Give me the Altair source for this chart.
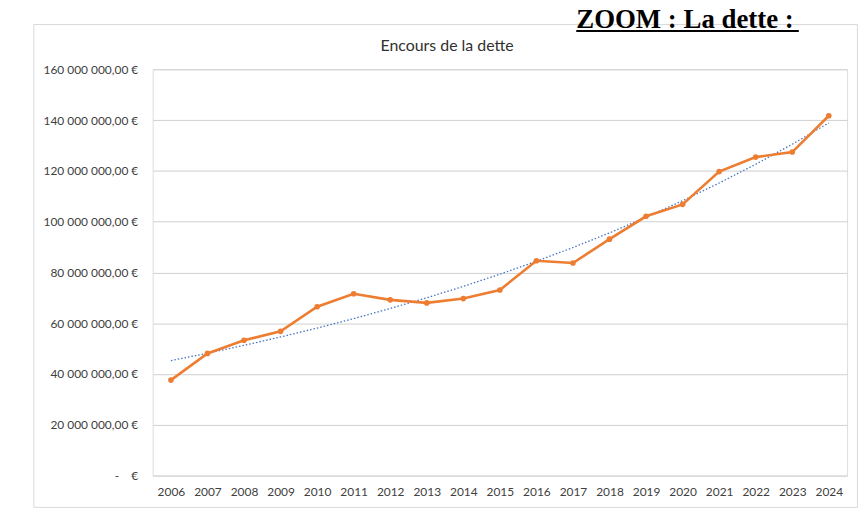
import altair as alt
import numpy as np
import pandas as pd

years = [str(y) for y in range(2006, 2025)]
encours = [37.6e6, 48.1e6, 53.3e6, 56.8e6, 66.5e6, 71.6e6, 69.2e6, 68.0e6, 69.7e6, 73.1e6,
           84.6e6, 83.7e6, 93.1e6, 102.1e6, 106.8e6, 119.7e6, 125.4e6, 127.4e6, 141.7e6]

# Excel-style exponential trendline (least squares on log values)
xi = np.arange(len(years))
b, a = np.polyfit(xi, np.log(encours), 1)
trend = list(np.exp(a + b * xi))

df = pd.DataFrame({"annee": years, "encours": encours, "tendance": trend})

W, H = 699, 409
FONT = "Lato"
LBL = "#404040"
NB = "\u00a0"

yexpr = ("datum.value == 0 ? '-" + NB * 4 + "€' : replace(replace(format(datum.value, ',.2f'), "
         "regexp(',', 'g'), '" + NB + "'), '.', ',') + '" + NB + "€'")

xenc = alt.X("annee:O", title=None, scale=alt.Scale(padding=0.5),
             axis=alt.Axis(labelAngle=0, domain=False, ticks=False, grid=False,
                           labelPadding=11, labelFont=FONT, labelFontSize=12, labelColor=LBL))
yenc = alt.Y("encours:Q", title=None,
             scale=alt.Scale(domain=[0, 160e6], nice=False),
             axis=alt.Axis(values=[i * 20e6 for i in range(9)], labelExpr=yexpr,
                           domain=False, ticks=False, grid=True, gridColor="#d0d0d0",
                           gridWidth=1, labelPadding=15, labelFont=FONT, labelFontSize=12,
                           labelColor=LBL))

base = alt.Chart(df)

line = base.mark_line(color="#ED7D31", strokeWidth=2.6).encode(x=xenc, y=yenc)
pts = base.mark_circle(color="#ED7D31", size=32, opacity=1).encode(x=xenc, y=yenc)
tr = base.mark_line(color="#4472C4", strokeWidth=1.3, strokeDash=[1.5, 2]).encode(
    x=xenc, y=alt.Y("tendance:Q"))

frame = alt.Chart(pd.DataFrame({"k": [0]})).mark_rect(
    fill=None, stroke="#d9d9d9", strokeWidth=1).encode(
    x=alt.value(34 - 153.6), x2=alt.value(863 - 153.6),
    y=alt.value(23 - 68), y2=alt.value(509 - 68))

title = alt.Chart(pd.DataFrame({"t": ["Encours de la dette"]})).mark_text(
    font=FONT, fontSize=16, color="#303030", align="center", baseline="alphabetic").encode(
    text="t:N", x=alt.value(450 - 153.6), y=alt.value(49.5 - 68))

heading = alt.Chart(pd.DataFrame({"t": ["ZOOM : La dette :"]})).mark_text(
    font="Liberation Serif", fontSize=27, fontWeight="bold", color="#000000",
    align="left", baseline="alphabetic").encode(
    text="t:N", x=alt.value(580 - 153.6), y=alt.value(26 - 68))

underline = alt.Chart(pd.DataFrame({"k": [0]})).mark_rule(
    color="#000000", strokeWidth=2.2).encode(
    x=alt.value(580 - 153.6), x2=alt.value(804 - 153.6),
    y=alt.value(29.5 - 68))

chart = alt.layer(frame, tr, line, pts, title, heading, underline).properties(
    width=W, height=H,
    autosize=alt.AutoSizeParams(type="none"),
    padding={"left": 145.6, "top": 60, "right": 12, "bottom": 35},
).configure_view(stroke=None).configure(background="#ffffff")

chart.save("out.html", embed_options={"renderer": "svg", "actions": False})
